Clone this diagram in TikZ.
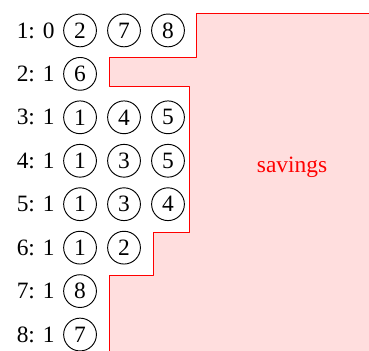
\documentclass[tikz,border=0pt]{standalone}
\usepackage{fontspec}
\setmainfont{Liberation Serif}
\usetikzlibrary{positioning}

\begin{document}
\begin{tikzpicture}[x=0.66cm,y=0.652cm,line cap=round,line join=round]
  \tikzset{num/.style={circle,draw,inner sep=0pt,minimum size=14pt},
    row/.style={anchor=east,inner sep=0pt}}
  \useasboundingbox (-0.82,-0.30) rectangle (7.57,-8.37);
  \clip (-0.82,-0.30) rectangle (7.57,-8.37);
  \draw[red,fill=red!13] (3.65,-0.62) -- (8,-0.62) -- (8,-8.6) -- (1.66,-8.6) -- (1.66,-6.65) -- (2.66,-6.65) -- (2.66,-5.64) -- (3.48,-5.64) -- (3.48,-2.30) -- (1.66,-2.30) -- (1.66,-1.62) -- (3.65,-1.62) -- cycle;
  \node[red] (savings) at (5.82,-4.15) {savings};
  \node[row] (r1) at (0.43,-1) {1: 0};
  \node[row] (r2) at (0.43,-2) {2: 1};
  \node[row] (r3) at (0.43,-3) {3: 1};
  \node[row] (r4) at (0.43,-4) {4: 1};
  \node[row] (r5) at (0.43,-5) {5: 1};
  \node[row] (r6) at (0.43,-6) {6: 1};
  \node[row] (r7) at (0.43,-7) {7: 1};
  \node[row] (r8) at (0.43,-8) {8: 1};
  \node[num] (a1) at (1,-1) {2};
  \node[num] (b1) at (2,-1) {7};
  \node[num] (c1) at (3,-1) {8};
  \node[num] (a2) at (1,-2) {6};
  \node[num] (a3) at (1,-3) {1};
  \node[num] (b3) at (2,-3) {4};
  \node[num] (c3) at (3,-3) {5};
  \node[num] (a4) at (1,-4) {1};
  \node[num] (b4) at (2,-4) {3};
  \node[num] (c4) at (3,-4) {5};
  \node[num] (a5) at (1,-5) {1};
  \node[num] (b5) at (2,-5) {3};
  \node[num] (c5) at (3,-5) {4};
  \node[num] (a6) at (1,-6) {1};
  \node[num] (b6) at (2,-6) {2};
  \node[num] (a7) at (1,-7) {8};
  \node[num] (a8) at (1,-8) {7};
\end{tikzpicture}
\end{document}
